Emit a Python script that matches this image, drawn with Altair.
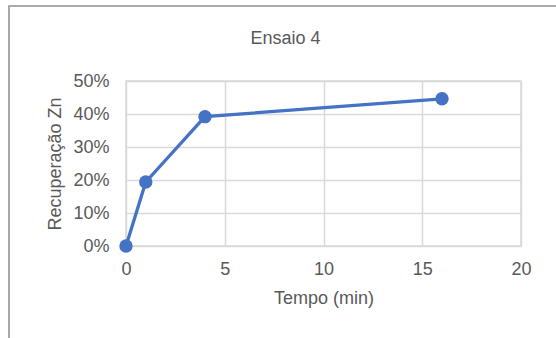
import altair as alt
import pandas as pd

# Zinc recovery over time
tempo = [0, 1, 4, 16]
recuperacao = [0.0, 0.194, 0.392, 0.446]

df = pd.DataFrame({"tempo": tempo, "recuperacao": recuperacao})

FONT = "Liberation Sans"
TEXT = "#595959"
GRID = "#d9d9d9"
BLUE = "#4472C4"

x = alt.X(
    "tempo:Q",
    scale=alt.Scale(domain=[0, 20], nice=False),
    axis=alt.Axis(
        values=[0, 5, 10, 15, 20],
        title="Tempo (min)",
        ticks=False,
        domain=False,
        labelFlush=False,
        labelPadding=14,
        titleX=197.5,
        titleY=57,
        titleBaseline="alphabetic",
        titleAlign="center",
    ),
)
y = alt.Y(
    "recuperacao:Q",
    scale=alt.Scale(domain=[0, 0.5], nice=False),
    axis=alt.Axis(
        values=[0, 0.1, 0.2, 0.3, 0.4, 0.5],
        format=".0%",
        title="Recuperação Zn",
        ticks=False,
        domain=False,
        labelFlush=False,
        labelPadding=17,
        titleX=-71,
        titleY=82.5,
        titleAngle=-90,
        titleAlign="center",
        titleBaseline="middle",
    ),
)

# Outer chart-area border
frame = alt.Chart(df).mark_rect(
    fill=None, stroke="#a6a6a6", strokeWidth=1.2
).encode(
    x=alt.value(-117), x2=alt.value(700), y=alt.value(-75), y2=alt.value(500)
)

line = alt.Chart(df).mark_line(
    color=BLUE, strokeWidth=3.3,
    point=alt.OverlayMarkDef(filled=True, size=180, color=BLUE, opacity=1),
).encode(x=x, y=y)

chart = (
    alt.layer(frame, line)
    .properties(
        width=395,
        height=165,
        background="white",
        title=alt.TitleParams(
            "Ensaio 4", anchor="middle", dx=-38, offset=-57, frame="group",
            baseline="alphabetic",
            font=FONT, fontSize=18, fontWeight="normal", color=TEXT,
        ),
        padding={"left": 126, "top": 81, "right": 35, "bottom": 92},
        autosize=alt.AutoSizeParams(type="none"),
    )
    .configure_view(stroke=GRID, strokeWidth=1.5)
    .configure_axis(
        labelFont=FONT, titleFont=FONT,
        labelFontSize=18, titleFontSize=18,
        labelColor=TEXT, titleColor=TEXT,
        titleFontWeight="normal",
        gridColor=GRID, gridWidth=1.5, gridOpacity=1,
    )
)

chart.save("out.html", embed_options={"renderer": "svg", "actions": False})
